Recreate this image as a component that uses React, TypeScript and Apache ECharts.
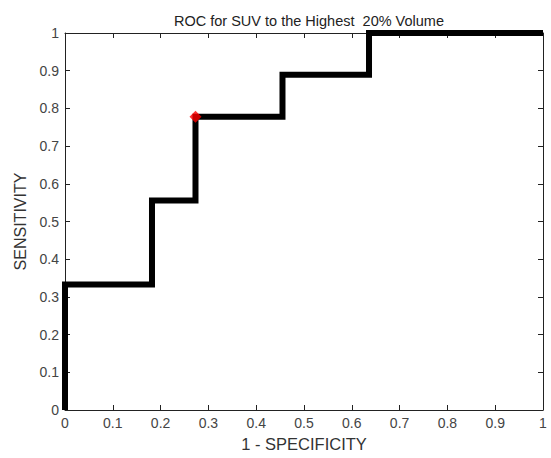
import React, { useEffect, useRef } from "react";
import * as echarts from "echarts";

const fpr = [0, 0, 0.182, 0.182, 0.273, 0.273, 0.455, 0.455, 0.636, 0.636, 1];
const tpr = [0, 0.333, 0.333, 0.556, 0.556, 0.778, 0.778, 0.889, 0.889, 1, 1];
const optimalPoint = [0.273, 0.778];
const titleText = "ROC for SUV to the Highest  20% Volume";
const xName = "1 - SPECIFICITY";
const yName = "SENSITIVITY";

export default function App() {
  const ref = useRef<HTMLDivElement>(null);
  useEffect(() => {
    if (!ref.current) return;
    const chart = echarts.init(ref.current, undefined, { renderer: "svg" });
    const font = "Liberation Sans, Arial, sans-serif";
    const baseAxis = {
      type: "value" as const,
      min: 0,
      max: 1,
      interval: 0.1,
      splitLine: { show: false },
      axisLine: { show: true, onZero: false, lineStyle: { color: "#222", width: 1 } },
      axisTick: { show: true, inside: true, length: 5, lineStyle: { color: "#222" } },
    };
    chart.setOption({
      animation: false,
      backgroundColor: "#fff",
      title: {
        text: titleText,
        left: 169,
        top: 8,
        textStyle: { fontFamily: font, fontSize: 14.5, fontWeight: "normal", color: "#222" },
      },
      grid: { left: 65, right: 8, top: 33, bottom: 48 },
      xAxis: [
        {
          ...baseAxis,
          position: "bottom",
          name: xName,
          nameLocation: "middle",
          nameGap: 25,
          nameTextStyle: { fontFamily: font, fontSize: 16.5, color: "#333" },
          axisLabel: { fontFamily: font, fontSize: 14, color: "#444", margin: 6 },
        },
        { ...baseAxis, position: "top", axisLabel: { show: false } },
      ],
      yAxis: [
        {
          ...baseAxis,
          position: "left",
          name: yName,
          nameLocation: "middle",
          nameGap: 37,
          nameTextStyle: { fontFamily: font, fontSize: 16, color: "#333" },
          axisLabel: { fontFamily: font, fontSize: 14, color: "#444", margin: 6 },
        },
        { ...baseAxis, position: "right", axisLabel: { show: false } },
      ],
      series: [
        {
          type: "line",
          data: fpr.map((x, i) => [x, tpr[i]]),
          showSymbol: false,
          symbol: "none",
          lineStyle: { color: "#000", width: 6, join: "miter" },
          z: 2,
        },
        {
          type: "scatter",
          data: [optimalPoint],
          symbol: "diamond",
          symbolSize: 12,
          itemStyle: { color: "#ff0000" },
          z: 3,
        },
      ],
    });
    return () => chart.dispose();
  }, []);
  return <div ref={ref} style={{ width: 551, height: 458, position: "absolute", left: 0, top: 0 }} />;
}
